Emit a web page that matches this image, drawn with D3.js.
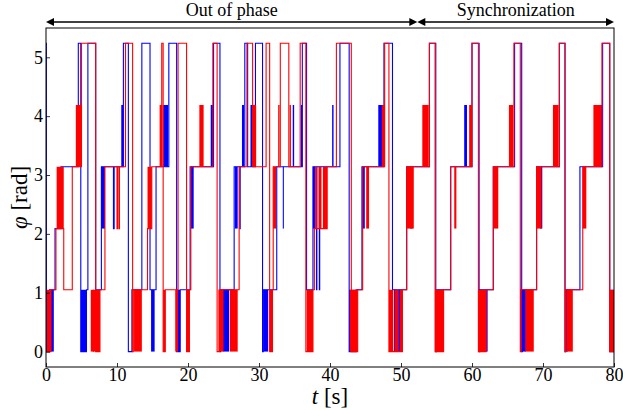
<!DOCTYPE html>
<html><head><meta charset="utf-8">
<script src="https://cdn.jsdelivr.net/npm/d3@7"></script>
<style>
body{margin:0;background:#fff}
svg{display:block}
svg text{font-family:'Liberation Serif','Times New Roman',serif;fill:#000}
</style>
</head><body>
<svg id="c" width="623" height="410"></svg>
<script>
// ---- data ----
const xTicks = [0,10,20,30,40,50,60,70,80];
const yTicks = [0,1,2,3,4,5];
const regions = [
  {label:"Out of phase", t0:0, t1:52.3},
  {label:"Synchronization", t0:52.3, t1:80}
];
// step series: [time s, phase rad]  (value holds until next time)
const blueSteps = [[0,5.24],[0.05,0],[0.5,1.05],[1.27,2.09],[2.1,3.14],[4.55,5.24],[4.9,0],[5.7,1.05],[5.9,5.24],[7.0,1.05],[7.8,3.14],[9.5,2.09],[9.6,3.14],[10.9,5.24],[11.6,0],[12.1,1.05],[13.5,5.24],[14.65,1.05],[15.5,3.14],[17.3,5.24],[18.4,0],[18.9,1.05],[20.3,3.14],[23.6,5.24],[24.5,0],[24.6,1.05],[26.5,3.14],[27.3,2.09],[27.35,3.14],[28.0,5.24],[28.4,3.14],[29.5,5.24],[30.5,0],[30.6,1.05],[32.5,3.14],[36.1,5.24],[36.7,1.05],[37.6,3.14],[38.1,1.05],[38.15,3.14],[38.5,1.05],[38.55,3.14],[41.4,5.24],[42.7,0],[43.7,1.05],[44.5,3.14],[47.6,5.24],[48.8,1.05],[50.8,3.14],[54.0,5.24],[54.9,0],[55.0,1.05],[57.0,3.14],[60.0,5.24],[61.0,0],[61.1,1.05],[63.0,3.14],[66.0,5.24],[67.0,0],[67.1,1.05],[69.1,3.14],[72.3,5.24],[73.1,0],[73.2,1.05],[75.2,3.14],[78.4,5.24],[79.4,0],[80,0]];
// fast switching intervals: [t start, t end, phase low, phase high]
const blueChatter = [[0.5,1.1,0,1.05],[4.9,5.7,0,1.05],[6.6,6.75,0,1.05],[7.8,8.3,2.09,3.14],[10.6,10.9,3.14,4.19],[14.8,15.3,0,1.05],[16.5,17.2,3.14,4.19],[18.4,18.9,0,1.05],[20.4,20.8,2.09,3.14],[23.2,23.6,3.14,4.19],[24.9,25.8,0,1.05],[26.6,27.0,2.09,3.14],[27.6,27.9,3.14,4.19],[28.8,29.2,3.14,4.19],[30.6,31.3,0,1.05],[33.35,33.5,2.09,3.14],[34.75,34.95,3.14,4.19],[35.9,36.1,3.14,4.19],[37.6,37.9,2.09,3.14],[40.3,40.5,3.14,4.19],[42.7,43.7,0,1.05],[44.5,44.9,2.09,3.14],[46.8,47.4,3.14,4.19],[49.0,49.4,0,1.05],[49.6,50.0,0,1.05],[51.3,51.6,2.09,3.14],[53.3,53.8,3.14,4.19],[55.2,56.0,0,1.05],[58.9,59.3,3.14,4.19],[61.0,62.2,0,1.05],[67.0,67.6,0,1.05],[69.6,69.9,2.09,3.14],[73.1,73.5,0,1.05],[77.4,77.6,3.14,4.19],[78.0,78.3,3.14,4.19],[79.5,80,0,1.05]];
const redSteps = [[0,0],[0.7,1.05],[1.4,2.09],[2.5,1.05],[3.7,3.14],[5.0,5.24],[7.0,0],[7.6,1.05],[8.3,3.14],[10.0,2.09],[10.1,3.14],[10.3,2.09],[10.35,3.14],[11.2,5.24],[12.2,0],[12.3,1.05],[14.3,2.09],[14.9,3.14],[16.3,5.24],[16.5,0],[16.8,1.05],[18.6,5.24],[19.8,0],[20.2,1.05],[20.4,3.14],[23.5,5.24],[24.1,0],[24.4,1.05],[27.2,3.14],[28.3,5.24],[29.1,3.14],[31.0,5.24],[31.5,0],[31.9,1.05],[32.0,3.14],[33.0,5.24],[34.2,3.14],[35.8,5.24],[36.6,0],[37.6,1.05],[37.8,2.09],[39.6,3.14],[40.9,5.24],[43.0,0],[43.9,1.05],[44.6,3.14],[47.7,5.24],[48.3,0],[50.2,1.05],[50.8,3.14],[54.0,5.24],[54.8,0],[56.0,1.05],[57.0,3.14],[60.0,5.24],[60.9,0],[62.0,1.05],[63.0,3.14],[65.9,5.24],[66.8,0],[66.9,1.05],[69.1,3.14],[72.3,5.24],[73.1,0],[73.2,1.05],[75.6,3.14],[78.3,5.24],[79.4,0],[80,0]];
const redChatter = [[0.1,0.7,0,1.05],[1.5,2.5,2.09,3.14],[4.2,5.0,3.14,4.19],[6.3,7.6,0,1.05],[12.4,13.5,0,1.05],[14.3,14.9,2.09,3.14],[16.0,16.4,3.14,4.19],[16.5,16.8,0,1.05],[18.2,18.6,0,1.05],[19.8,20.2,0,1.05],[21.6,22.2,3.14,4.19],[24.3,25.0,0,1.05],[25.9,27.0,0,1.05],[29.1,29.6,3.14,4.19],[31.5,31.9,0,1.05],[32.0,32.4,2.09,3.14],[32.7,32.9,3.14,4.19],[34.3,34.5,3.14,4.19],[36.7,37.6,0,1.05],[37.9,38.2,2.09,3.14],[38.4,38.8,2.09,3.14],[39.0,39.6,2.09,3.14],[42.8,43.9,0,1.05],[45.1,45.5,2.09,3.14],[47.3,47.7,3.14,4.19],[48.3,48.9,0,1.05],[49.1,49.6,0,1.05],[49.8,50.2,0,1.05],[50.8,51.8,2.09,3.14],[53.0,53.9,3.14,4.19],[54.8,56.0,0,1.05],[57.5,57.8,2.09,3.14],[59.6,60.0,3.14,4.19],[60.9,62.0,0,1.05],[63.0,63.7,2.09,3.14],[65.2,65.8,3.14,4.19],[67.5,68.7,0,1.05],[69.1,69.8,2.09,3.14],[71.4,72.2,3.14,4.19],[73.3,74.2,0,1.05],[75.6,76.1,2.09,3.14],[77.1,78.2,3.14,4.19],[79.4,80,0,1.05]];

// ---- layout ----
const FONT = "'Liberation Serif','Times New Roman',serif";
const L = 46, R = 614, T = 28, B = 367;
const svg = d3.select("#c");
const x = d3.scaleLinear().domain([0,80]).range([L,R]);
const y = d3.scaleLinear().domain([-0.262,5.498]).range([B,T]);

svg.append("defs").append("clipPath").attr("id","clip")
  .append("rect").attr("x",L).attr("y",T).attr("width",R-L).attr("height",B-T);

const plot = svg.append("g").attr("clip-path","url(#clip)");
const line = d3.line().x(d=>x(d[0])).y(d=>y(d[1])).curve(d3.curveStepAfter);

function drawSeries(steps, chatter, color){
  const g = plot.append("g");
  g.selectAll("rect").data(chatter).join("rect")
    .attr("x", d=>x(d[0]))
    .attr("width", d=>Math.max(1, x(d[1])-x(d[0])))
    .attr("y", d=>y(d[3]))
    .attr("height", d=>y(d[2])-y(d[3]))
    .attr("fill", color);
  g.append("path").datum(steps).attr("d", line)
    .attr("fill","none").attr("stroke",color).attr("stroke-width",1.1);
}
drawSeries(blueSteps, blueChatter, "#0000ff");
drawSeries(redSteps, redChatter, "#ff0000");

// axes
const fmt = d3.format("d");
const xAxis = svg.append("g").attr("transform",`translate(0,${B})`)
  .call(d3.axisBottom(x).tickValues(xTicks).tickFormat(fmt).tickSizeInner(-4).tickSizeOuter(0).tickPadding(1));
const yAxis = svg.append("g").attr("transform",`translate(${L},0)`)
  .call(d3.axisLeft(y).tickValues(yTicks).tickFormat(fmt).tickSizeInner(-4).tickSizeOuter(0).tickPadding(3));
[xAxis,yAxis].forEach(a=>{
  a.attr("font-family",FONT).attr("font-size",18);
  a.select(".domain").remove();
  a.selectAll("line").attr("stroke","#000").attr("stroke-width",0.8);
  a.selectAll("text").style("font-family",FONT).attr("font-size",18).attr("fill","#000");
});

// frame
svg.append("rect").attr("x",L).attr("y",T).attr("width",R-L).attr("height",B-T)
  .attr("fill","none").attr("stroke","#000").attr("stroke-width",1);

// axis labels
svg.append("text").attr("x",(L+R)/2).attr("y",404).attr("text-anchor","middle").attr("font-size",23)
  .style("font-family",FONT)
  .html('<tspan font-style="italic">t</tspan> [s]');
svg.append("text").attr("transform",`translate(27,${(T+B)/2}) rotate(-90)`).attr("text-anchor","middle").attr("font-size",23)
  .style("font-family",FONT)
  .html('<tspan font-style="italic">φ</tspan> [rad]');

// region arrows
const ay = 22;
regions.forEach(r=>{
  const x0 = x(r.t0), x1 = x(r.t1);
  svg.append("line").attr("x1",x0+4).attr("x2",x1-4).attr("y1",ay).attr("y2",ay)
    .attr("stroke","#000").attr("stroke-width",1.5);
  svg.append("path").attr("d",`M${x0},${ay}L${x0+8},${ay-4}L${x0+8},${ay+4}Z`).attr("fill","#000");
  svg.append("path").attr("d",`M${x1},${ay}L${x1-8},${ay-4}L${x1-8},${ay+4}Z`).attr("fill","#000");
  svg.append("text").attr("x",(x0+x1)/2).attr("y",16).attr("text-anchor","middle").attr("font-size",18)
    .style("font-family",FONT)
    .text(r.label);
});
</script>
</body></html>
